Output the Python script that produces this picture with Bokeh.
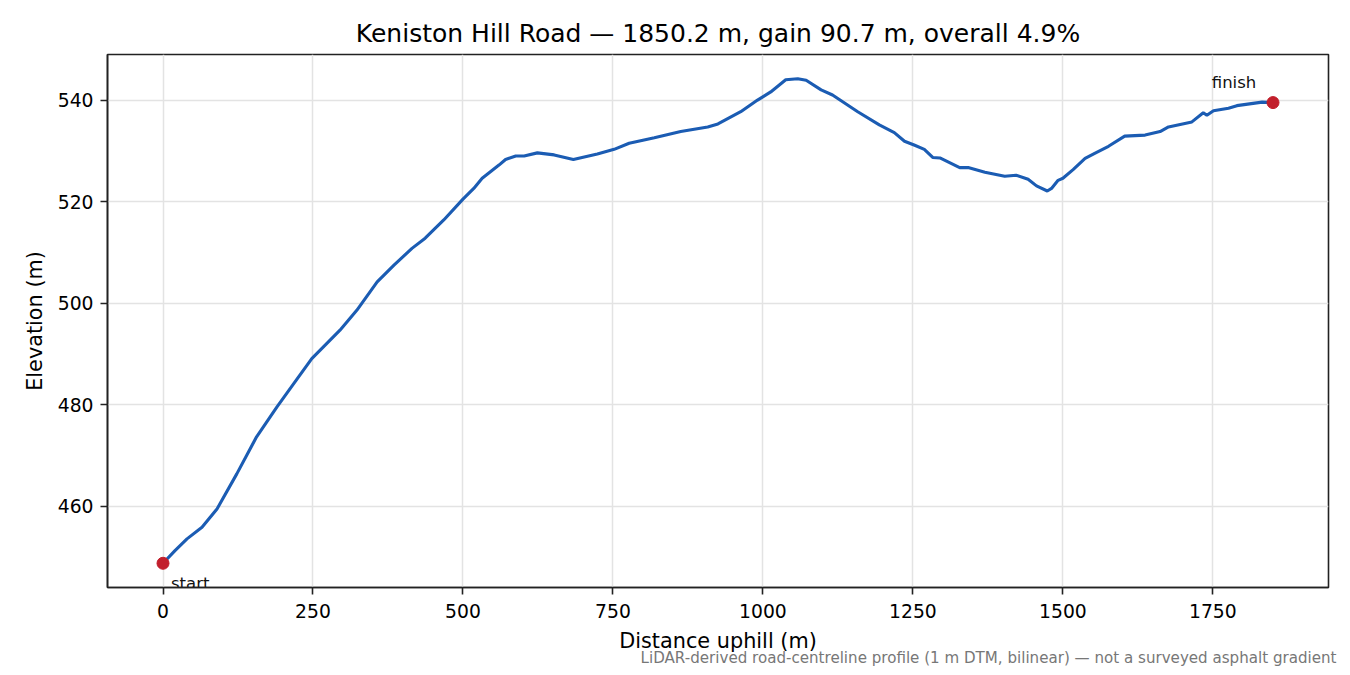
from bokeh.plotting import figure
from bokeh.models import ColumnDataSource, FixedTicker, Title
from bokeh.core.properties import value
from bokeh.embed import file_html
from bokeh.resources import INLINE

# ---- data ----
distance_m = [0, 20, 40, 65, 90, 123, 156, 190, 220, 248, 295, 323, 357, 385, 415, 437,
              468, 500, 518, 532, 560, 571, 588, 602, 624, 652, 684, 724, 752, 777, 819,
              863, 908, 925, 963, 991, 1013, 1038, 1058, 1072, 1097, 1116, 1158, 1194,
              1219, 1236, 1253, 1269, 1283, 1295, 1328, 1342, 1370, 1403, 1422, 1442,
              1456, 1474, 1481, 1492, 1500, 1517, 1537, 1553, 1576, 1603, 1637, 1662,
              1676, 1715, 1734, 1740, 1751, 1776, 1790, 1832, 1850.2]
elevation_m = [448.8, 451.3, 453.6, 455.9, 459.5, 466.4, 473.7, 479.6, 484.5, 489.1, 494.7,
               498.6, 504.2, 507.5, 510.8, 512.8, 516.4, 520.5, 522.6, 524.6, 527.2, 528.3,
               529.0, 529.0, 529.6, 529.2, 528.3, 529.4, 530.3, 531.5, 532.6, 533.8, 534.7,
               535.3, 537.7, 540.0, 541.6, 544.0, 544.2, 543.9, 542.0, 541.0, 537.7, 535.1,
               533.6, 531.9, 531.1, 530.3, 528.7, 528.6, 526.7, 526.7, 525.8, 525.0, 525.2,
               524.4, 523.1, 522.1, 522.6, 524.2, 524.6, 526.3, 528.5, 529.5, 530.9, 532.9,
               533.1, 533.8, 534.7, 535.7, 537.5, 537.0, 537.9, 538.4, 538.9, 539.6, 539.5]
endpoint_labels = ["start", "finish"]
x_ticks = [0, 250, 500, 750, 1000, 1250, 1500, 1750]
y_ticks = [460, 480, 500, 520, 540]

title_text = "Keniston Hill Road \u2014 1850.2 m, gain 90.7 m, overall 4.9%"
x_label = "Distance uphill (m)"
y_label = "Elevation (m)"
footnote = "LiDAR-derived road-centreline profile (1 m DTM, bilinear) \u2014 not a surveyed asphalt gradient"

FONT = "DejaVu Sans"
LINE = "#1b5cb3"
RED = "#c21f2c"

xmin, xmax = min(distance_m), max(distance_m)
ymin, ymax = min(elevation_m), max(elevation_m)
xpad = 0.05 * (xmax - xmin)
ypad = 0.05 * (ymax - ymin)

p = figure(width=1342, height=672, output_backend="svg", toolbar_location=None,
           x_range=(xmin - xpad, xmax + xpad), y_range=(ymin - ypad, ymax + ypad),
           min_border_left=107, min_border_right=14, min_border_top=54, min_border_bottom=85)

p.title = Title(text=title_text, align="center", text_font=FONT, text_font_size="25px",
                text_font_style="normal", text_color="black", standoff=14)

p.background_fill_color = "white"
p.border_fill_color = "white"
p.outline_line_color = "#222222"
p.outline_line_width = 1.6

for ax in (p.xaxis[0], p.yaxis[0]):
    ax.axis_line_color = "#222222"
    ax.axis_line_width = 1.6
    ax.major_tick_line_color = "#222222"
    ax.major_tick_line_width = 1.6
    ax.major_tick_out = 7
    ax.major_tick_in = 0
    ax.minor_tick_line_color = None
    ax.major_label_text_font = FONT
    ax.major_label_text_font_size = "18.75px"
    ax.major_label_text_color = "black"
    ax.axis_label_text_font = FONT
    ax.axis_label_text_font_size = "20.8px"
    ax.axis_label_text_font_style = "normal"
    ax.axis_label_text_color = "black"

p.xaxis.ticker = FixedTicker(ticks=x_ticks)
p.yaxis.ticker = FixedTicker(ticks=y_ticks)
p.xaxis.axis_label = x_label
p.yaxis.axis_label = y_label
p.xaxis.major_label_standoff = 9
p.yaxis.major_label_standoff = 7
p.xaxis.axis_label_standoff = 8
p.yaxis.axis_label_standoff = 8

p.xgrid.ticker = FixedTicker(ticks=x_ticks)
p.ygrid.ticker = FixedTicker(ticks=y_ticks)
for g in (p.xgrid[0], p.ygrid[0]):
    g.grid_line_color = "#e3e3e3"
    g.grid_line_width = 1.5

src = ColumnDataSource(dict(x=distance_m, y=elevation_m))
p.line("x", "y", source=src, line_color=LINE, line_width=3.1)

ends = ColumnDataSource(dict(x=[distance_m[0], distance_m[-1]],
                             y=[elevation_m[0], elevation_m[-1]],
                             label=endpoint_labels))
p.scatter("x", "y", source=ends, size=12, fill_color=RED, line_color=RED)

start_src = ColumnDataSource(dict(x=[distance_m[0]], y=[elevation_m[0]], t=[endpoint_labels[0]]))
finish_src = ColumnDataSource(dict(x=[distance_m[-1]], y=[elevation_m[-1]], t=[endpoint_labels[1]]))
p.text("x", "y", text="t", source=start_src, x_offset=8, y_offset=20,
       text_font=value(FONT), text_font_size="16.5px", text_color="#111111",
       text_align="left", text_baseline="alphabetic")
p.text("x", "y", text="t", source=finish_src, x_offset=-39, y_offset=-20,
       text_font=value(FONT), text_font_size="16.5px", text_color="#111111",
       text_align="center", text_baseline="alphabetic")

note = Title(text=footnote, align="right", offset=-8, standoff=-18,
             text_font=FONT, text_font_size="15.1px", text_font_style="normal",
             text_color="#777777")
p.add_layout(note, "below")

open("out.html", "w").write(file_html(p, INLINE))
